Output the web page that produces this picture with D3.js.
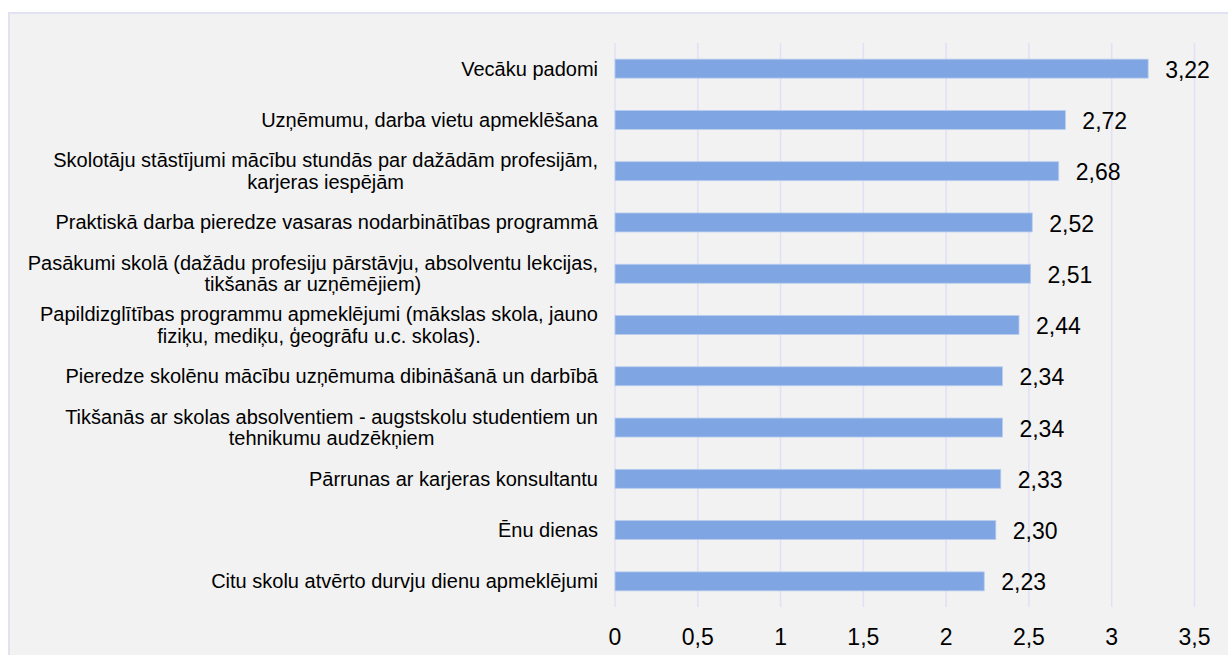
<!DOCTYPE html>
<meta charset="utf-8">
<script src="https://d3js.org/d3.v7.min.js"></script>
<style>
  body { margin: 0; background: #fff; }
  text { font-family: Arial, "Liberation Sans", sans-serif; fill: #000; }
</style>
<div id="chart"></div>
<script>

// categories (top to bottom), each label split into its lines
const categories = [
  ["Vecāku padomi"],
  ["Uzņēmumu, darba vietu apmeklēšana"],
  ["Skolotāju stāstījumi mācību stundās par dažādām profesijām,", "karjeras iespējām"],
  ["Praktiskā darba pieredze vasaras nodarbinātības programmā"],
  ["Pasākumi skolā (dažādu profesiju pārstāvju, absolventu lekcijas,", "tikšanās ar uzņēmējiem)"],
  ["Papildizglītības programmu apmeklējumi (mākslas skola, jauno", "fiziķu, mediķu, ģeogrāfu u.c. skolas)."],
  ["Pieredze skolēnu mācību uzņēmuma dibināšanā un darbībā"],
  ["Tikšanās ar skolas absolventiem - augstskolu studentiem un", "tehnikumu audzēkņiem"],
  ["Pārrunas ar karjeras konsultantu"],
  ["Ēnu dienas"],
  ["Citu skolu atvērto durvju dienu apmeklējumi"]
];
const values = [3.22, 2.72, 2.68, 2.52, 2.51, 2.44, 2.34, 2.34, 2.33, 2.30, 2.23];
const ticks = [0, 0.5, 1, 1.5, 2, 2.5, 3, 3.5];

const W = 1228, H = 655;
const fmt = v => String(v).replace(".", ",");
const fmtVal = v => v.toFixed(2).replace(".", ",");

const svg = d3.select("#chart").append("svg")
  .attr("width", W).attr("height", H);

// panel
svg.append("rect")
  .attr("x", 9).attr("y", 13)
  .attr("width", W + 20).attr("height", H + 20)
  .attr("fill", "#f2f2f2")
  .attr("stroke", "#e2e2f5")
  .attr("stroke-width", 2);

const x = d3.scaleLinear().domain([0, 3.5]).range([615, 1194.5]);
const y = d3.scaleBand().domain(d3.range(categories.length)).range([43, 607]).paddingInner(0.63).paddingOuter(0.315);

// gridlines
svg.append("g").selectAll("line").data(ticks).join("line")
  .attr("x1", d => x(d)).attr("x2", d => x(d))
  .attr("y1", 43).attr("y2", 607)
  .attr("stroke", "#e0e0f6").attr("stroke-width", 1.5);

// bars
svg.append("g").selectAll("rect").data(values).join("rect")
  .attr("x", x(0))
  .attr("y", (d, i) => y(i))
  .attr("width", d => x(d) - x(0))
  .attr("height", y.bandwidth())
  .attr("fill", "#7fa5e2")
  .attr("stroke", "#b9cdef").attr("stroke-width", 0.8);

// value labels
svg.append("g").selectAll("text").data(values).join("text")
  .attr("x", d => x(d) + 17)
  .attr("y", (d, i) => y(i) + y.bandwidth() / 2 + 1)
  .attr("dy", "0.35em")
  .attr("font-size", 23)
  .text(d => fmtVal(d));

// x tick labels
svg.append("g").selectAll("text").data(ticks).join("text")
  .attr("x", d => x(d))
  .attr("y", 637)
  .attr("dy", "0.35em")
  .attr("text-anchor", "middle")
  .attr("font-size", 23)
  .text(d => fmt(d));

// category labels: block right-aligned at 598, lines centred in the block
const labelRight = 598, lineH = 21.5;
const cat = svg.append("g").selectAll("g").data(categories).join("g");
cat.each(function(lines, i) {
  const g = d3.select(this);
  const cy = y(i) + y.bandwidth() / 2;
  const ts = lines.map((ln, k) => g.append("text")
    .attr("font-size", 20)
    .attr("y", cy + (k - (lines.length - 1) / 2) * lineH)
    .attr("dy", "0.35em")
    .attr("text-anchor", "middle")
    .text(ln));
  const maxW = d3.max(ts, t => t.node().getComputedTextLength());
  ts.forEach(t => t.attr("x", labelRight - maxW / 2));
});

</script>
